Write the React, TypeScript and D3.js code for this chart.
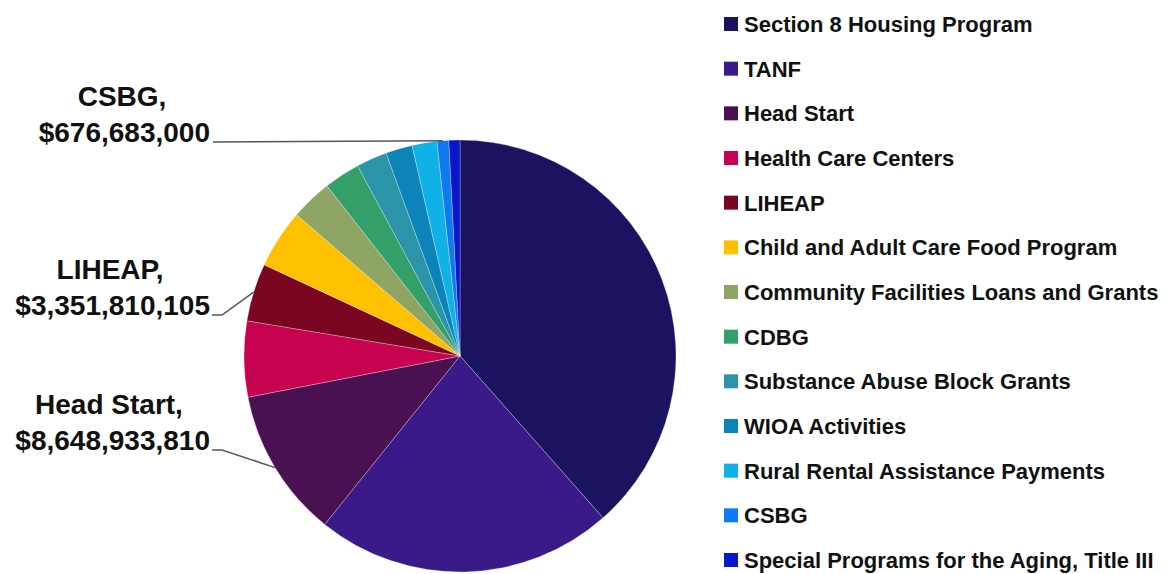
import * as d3 from "d3";

const programs = [
  "Section 8 Housing Program",
  "TANF",
  "Head Start",
  "Health Care Centers",
  "LIHEAP",
  "Child and Adult Care Food Program",
  "Community Facilities Loans and Grants",
  "CDBG",
  "Substance Abuse Block Grants",
  "WIOA Activities",
  "Rural Rental Assistance Payments",
  "CSBG",
  "Special Programs for the Aging, Title III",
];

// dollars (the three labelled ones are exact)
const funding = [
  29800000000, 17260000000, 8648933810, 4390000000, 3351810105, 3410000000,
  2400000000, 2090000000, 1780000000, 1550000000, 1440000000, 676683000,
  640000000,
];

const colors = [
  "#1a1460", "#3a1989", "#4a1152", "#c7034f", "#7a0621", "#ffc000",
  "#8ea564", "#33a06a", "#2b94a8", "#0c84b9", "#10b1e6", "#0f7af0",
  "#0a16cc",
];

// slices that carry a callout, and the text lines for each
const calloutNames = ["CSBG,", "LIHEAP,", "Head Start,"];
const calloutValues = ["$676,683,000", "$3,351,810,105", "$8,648,933,810"];
const calloutIndex = [11, 4, 2];
const calloutBaseline = [142, 315, 450];
const calloutCenter = [122, 110, 109];

const W = 1172;
const H = 574;
const cx = 460;
const cy = 356;
const R = 216;

export default function App() {
  const pie = d3.pie<number>().sort(null).value((d) => d);
  const arcs = pie(funding);
  const arc = d3.arc<d3.PieArcDatum<number>>().innerRadius(0).outerRadius(R);

  const legendY = d3.scalePoint<number>()
    .domain(d3.range(programs.length))
    .range([24, 560]);

  const font = "'Liberation Sans', Arial, sans-serif";

  return (
    <svg width={W} height={H} style={{ position: "absolute", left: 0, top: 0, background: "#fff" }}>
      <g transform={`translate(${cx},${cy})`}>
        {arcs.map((a, i) => (
          <path
            key={i}
            d={arc(a) ?? ""}
            fill={colors[i]}
            stroke="#ffffff"
            strokeOpacity={0.35}
            strokeWidth={0.8}
          />
        ))}
      </g>

      {calloutIndex.map((idx, k) => {
        const a = arcs[idx];
        const mid = (a.startAngle + a.endAngle) / 2;
        const ex = cx + R * Math.sin(mid);
        const ey = cy - R * Math.cos(mid);
        const by = calloutBaseline[k];
        const pts: [number, number][] =
          k === 0
            ? [[213, by], [ex, ey]]
            : [[212, by], [222, by], [ex, ey]];
        return (
          <g key={k}>
            <path d={d3.line()(pts) ?? ""} fill="none" stroke="#555" strokeWidth={1.5} />
            <text
              x={calloutCenter[k]}
              y={by - 36}
              textAnchor="middle"
              fontFamily={font}
              fontWeight="bold"
              fontSize={28}
              fill="#111"
            >
              {calloutNames[k]}
            </text>
            <text
              x={210}
              y={by}
              textAnchor="end"
              fontFamily={font}
              fontWeight="bold"
              fontSize={28}
              fill="#111"
            >
              {calloutValues[k]}
            </text>
          </g>
        );
      })}

      {programs.map((p, i) => {
        const y = legendY(i) ?? 0;
        return (
          <g key={p}>
            <rect x={724} y={y - 7} width={14} height={14} fill={colors[i]} />
            <text
              x={744}
              y={y + 8}
              fontFamily={font}
              fontWeight="bold"
              fontSize={22}
              fill="#111"
            >
              {p}
            </text>
          </g>
        );
      })}
    </svg>
  );
}
